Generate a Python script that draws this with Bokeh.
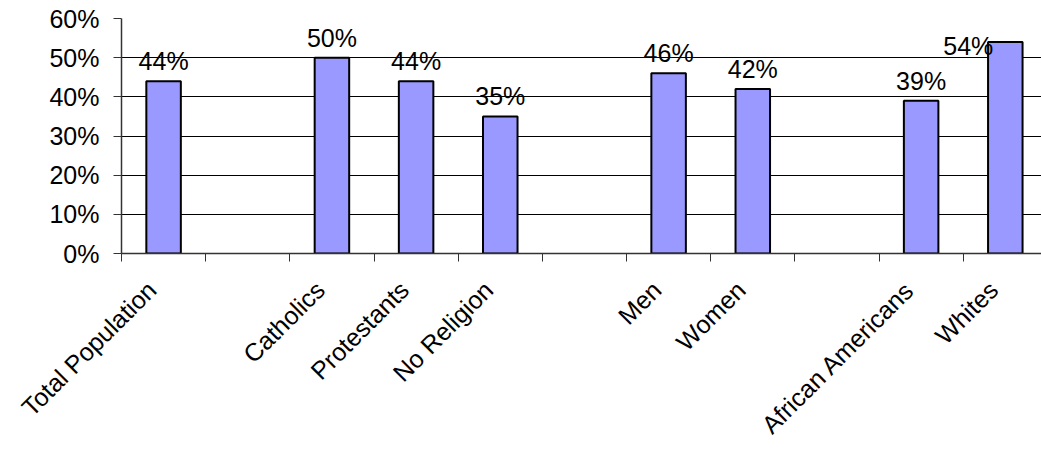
import math
import numpy as np
from bokeh.plotting import figure
from bokeh.models import ColumnDataSource, FixedTicker, Range1d
from bokeh.core.properties import value
from bokeh.embed import file_html
from bokeh.resources import INLINE

# Survey shares by group; empty names are spacer slots between groups
categories = ["Total Population", "", "Catholics", "Protestants", "No Religion", "",
              "Men", "Women", "", "African Americans", "Whites"]
shares = [44, None, 50, 44, 35, None, 46, 42, None, 39, 54]
y_ticks = [0, 10, 20, 30, 40, 50, 60]
y_tick_labels = ["0%", "10%", "20%", "30%", "40%", "50%", "60%"]

FONT = "Liberation Sans"
FONT_SIZE = "25px"
Y_MAX = 60
FRAME_TOP, FRAME_BOTTOM = 18, 254
W, H = 1041, 451
frame_h = FRAME_BOTTOM - FRAME_TOP
px_per_unit = frame_h / Y_MAX

slots = [i for i, v in enumerate(shares) if v is not None]
vals = np.array([shares[i] for i in slots], dtype=float)
centers = np.array(slots, dtype=float) + 0.5

# labels sit above their bars; one that would leave the plot area moves beside the bar
label_gap, label_h = 20, 17
overflow = (Y_MAX - vals) * px_per_unit - label_gap - label_h < 0
y_off = np.where(overflow, 4.0, -label_gap)
x_off = np.where(overflow, -37.0, 0.0)

src = ColumnDataSource(dict(x=centers, top=vals,
                            label=[f"{int(v)}%" for v in vals],
                            xo=x_off, yo=y_off))

p = figure(width=W, height=H, output_backend="svg", toolbar_location=None,
           x_range=Range1d(0, 10.93), y_range=Range1d(0, Y_MAX),
           min_border_left=121, min_border_right=0,
           min_border_top=FRAME_TOP, min_border_bottom=H - FRAME_BOTTOM)
p.outline_line_color = None
p.background_fill_color = "white"
p.border_fill_color = "white"

p.vbar(x="x", top="top", bottom=0, width=0.41, source=src,
       fill_color="#9999FF", line_color="black", line_width=2)

p.text(x="x", y="top", text="label", x_offset="xo", y_offset="yo", source=src,
       text_font=value(FONT), text_font_size=FONT_SIZE, text_color="black",
       text_align="center", text_baseline="alphabetic")

# y axis
p.yaxis.ticker = FixedTicker(ticks=y_ticks)
p.yaxis.major_label_overrides = {t: s for t, s in zip(y_ticks, y_tick_labels)}
p.yaxis.major_label_text_font = FONT
p.yaxis.major_label_text_font_size = FONT_SIZE
p.yaxis.major_label_text_color = "black"
p.yaxis.major_tick_out = 8
p.yaxis.major_tick_in = 0
p.yaxis.minor_tick_out = 0
p.yaxis.minor_tick_in = 0
p.yaxis.major_label_standoff = 14
p.yaxis.axis_line_color = "#333333"
p.yaxis.axis_line_width = 1.5
p.yaxis.major_tick_line_color = "#333333"

# x axis: names hang from just left of each slot centre, tick marks at slot boundaries
name_shift = 0.14
xt = [i + 0.5 - name_shift for i in range(len(categories))]
p.xaxis.ticker = FixedTicker(ticks=xt, minor_ticks=list(range(len(categories) + 1)))
p.xaxis.major_label_overrides = {t: c for t, c in zip(xt, categories)}
p.xaxis.major_label_orientation = math.pi / 4
p.xaxis.major_label_text_font = FONT
p.xaxis.major_label_text_font_size = FONT_SIZE
p.xaxis.major_label_text_color = "black"
p.xaxis.major_tick_out = 0
p.xaxis.major_tick_in = 0
p.xaxis.minor_tick_out = 8
p.xaxis.minor_tick_in = 0
p.xaxis.minor_tick_line_color = "#333333"
p.xaxis.major_label_standoff = 24
p.xaxis.axis_line_color = "#333333"
p.xaxis.axis_line_width = 1.5

p.xgrid.grid_line_color = None
p.ygrid.ticker = FixedTicker(ticks=y_ticks)
p.ygrid.grid_line_color = "black"
p.ygrid.grid_line_width = 1

open("out.html", "w").write(file_html(p, INLINE))
